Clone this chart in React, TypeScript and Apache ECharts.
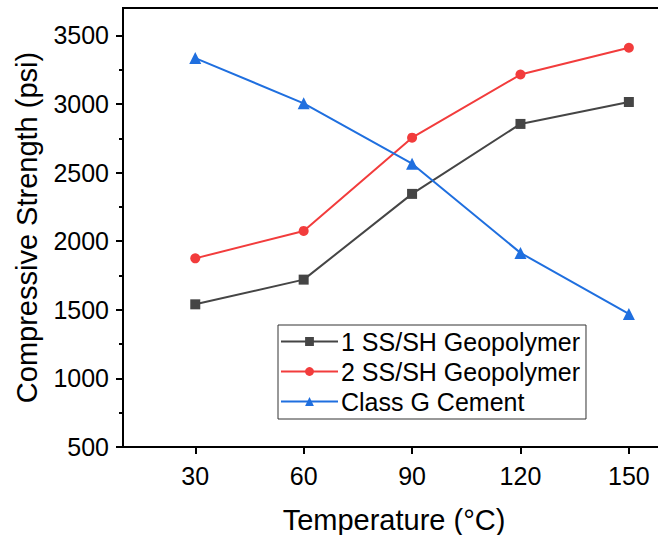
import React, { useEffect, useRef } from "react";
import * as echarts from "echarts";

const temperatures = [30, 60, 90, 120, 150];
const geo1 = [1540, 1720, 2345, 2855, 3015];
const geo2 = [1875, 2075, 2755, 3215, 3410];
const classG = [3335, 3005, 2565, 1915, 1470];
const xTicks = [30, 60, 90, 120, 150];
const yTicks = [500, 1000, 1500, 2000, 2500, 3000, 3500];
const yMinorTicks = [750, 1250, 1750, 2250, 2750, 3250];
const seriesNames = ["1 SS/SH Geopolymer", "2 SS/SH Geopolymer", "Class G Cement"];

const FONT = "'Liberation Sans', Arial, sans-serif";

export default function App() {
  const ref = useRef<HTMLDivElement>(null);
  useEffect(() => {
    if (!ref.current) return;
    const chart = echarts.init(ref.current, null, { renderer: "svg" });
    const pair = (ys: number[]) => temperatures.map((t, i) => [t, ys[i]]);
    const colors = ["#454545", "#f23c3c", "#1f6fdf"];
    const symbols = ["rect", "circle", "triangle"];
    const sizes = [10, 10, 12];
    const datasets = [geo1, geo2, classG];
    chart.setOption({
      animation: false,
      textStyle: { fontFamily: FONT },
      grid: {
        left: 123,
        top: 8,
        right: -7,
        bottom: 88,
        show: true,
        borderColor: "#000",
        borderWidth: 2,
        backgroundColor: "transparent",
        containLabel: false,
        outerBoundsMode: "none",
      },
      legend: {
        orient: "vertical",
        left: 278,
        top: 325,
        backgroundColor: "#fff",
        borderColor: "#333",
        borderWidth: 1,
        padding: [4, 6, 5, 2],
        itemGap: 5,
        itemWidth: 57,
        itemHeight: 11,
        data: seriesNames,
        textStyle: { fontFamily: FONT, fontSize: 25, color: "#000", padding: [0, 0, 0, -2] },
      },
      xAxis: {
        type: "value",
        min: 10,
        max: 160,
        name: "Temperature (°C)",
        nameLocation: "middle",
        nameGap: 58,
        nameTextStyle: { fontFamily: FONT, fontSize: 29, color: "#000" },
        axisLine: { show: true, lineStyle: { color: "#000", width: 2 } },
        axisTick: { show: true, inside: false, length: 7, customValues: xTicks, lineStyle: { color: "#000", width: 2 } },
        axisLabel: { customValues: xTicks, margin: 16, fontFamily: FONT, fontSize: 25, color: "#000", formatter: (v: number) => String(v) },
        splitLine: { show: false },
      },
      yAxis: [
        {
          type: "value",
          min: 500,
          max: 3700,
          name: "Compressive Strength (psi)",
          nameLocation: "middle",
          nameGap: 82,
          nameTextStyle: { fontFamily: FONT, fontSize: 29, color: "#000" },
          axisLine: { show: true, lineStyle: { color: "#000", width: 2 } },
          axisTick: { show: true, inside: false, length: 7, customValues: yTicks, lineStyle: { color: "#000", width: 2 } },
          axisLabel: { customValues: yTicks, margin: 14, fontFamily: FONT, fontSize: 25, color: "#000", formatter: (v: number) => String(v) },
          splitLine: { show: false },
        },
        {
          type: "value",
          min: 500,
          max: 3700,
          position: "left",
          axisLine: { show: false },
          axisTick: { show: true, inside: false, length: 4, customValues: yMinorTicks, lineStyle: { color: "#000", width: 2 } },
          axisLabel: { show: false },
          splitLine: { show: false },
        },
      ],
      series: datasets.map((d, i) => ({
        name: seriesNames[i],
        type: "line",
        data: pair(d),
        symbol: symbols[i],
        symbolSize: sizes[i],
        lineStyle: { color: colors[i], width: 2 },
        itemStyle: { color: colors[i] },
        z: 3 + i,
      })),
    });
    return () => chart.dispose();
  }, []);
  return (
    <div
      ref={ref}
      style={{ position: "fixed", left: 0, top: 0, width: 658, height: 535, background: "#fff" }}
    />
  );
}
